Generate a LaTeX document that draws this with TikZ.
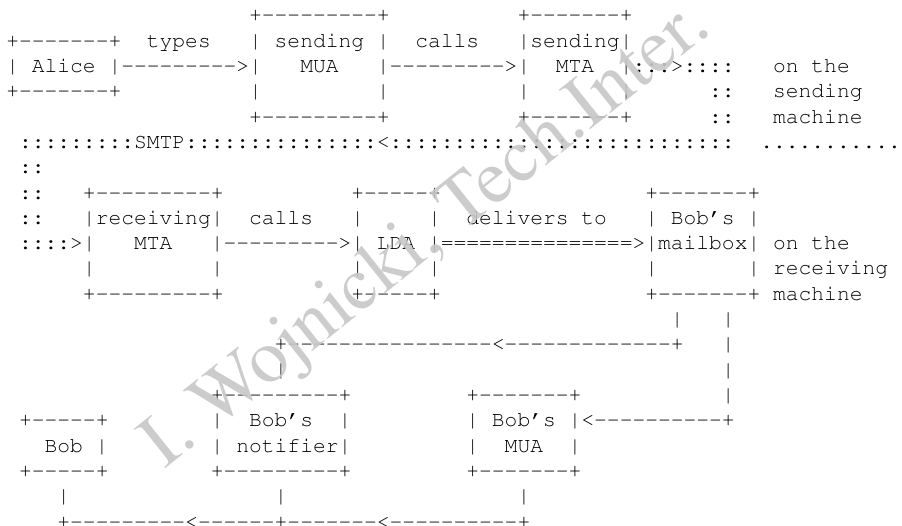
\documentclass[tikz,border=0pt]{standalone}
\usepackage[T1]{fontenc}
\usepackage{times}
\newcommand\cw{12.78}
\newcommand\rh{25.3}
\newcommand\rep[2]{\foreach \k in {1,...,#1}{#2}}
\newcommand\dd[1]{\rep{#1}{-}}
\tikzset{ascii/.style={anchor=base west, inner sep=0pt, outer sep=0pt,
  font=\fontsize{21.3}{25}\selectfont\ttfamily},
  wmark/.style={text=black!22, text opacity=0.9,
  font=\fontsize{76}{76}\selectfont\rmfamily}}
\newcommand\tx[3]{\node[ascii] at ({6.31+\cw*#2},{525-(22+\rh*(#1-1))}) {#3};}
\begin{document}
\begin{tikzpicture}[x=1pt,y=1pt]
\fill[white] (0,0) rectangle (902,525);
\useasboundingbox (0,0) rectangle (902,525);
% sending machine
\tx{1}{19}{+\dd9+} \tx{1}{40}{+\dd7+}
\tx{2}{0}{+\dd7+} \tx{2}{11}{types} \tx{2}{19}{| sending |} \tx{2}{32}{calls} \tx{2}{40}{|sending|}
\tx{3}{0}{| Alice |\dd9>|} \tx{3}{23}{MUA} \tx{3}{29}{|\dd9>|} \tx{3}{43}{MTA} \tx{3}{48}{|:::>::::} \tx{3}{60}{on the}
\tx{4}{0}{+\dd7+} \tx{4}{19}{|} \tx{4}{29}{|} \tx{4}{40}{|} \tx{4}{48}{|} \tx{4}{55}{::} \tx{4}{60}{sending}
\tx{5}{19}{+\dd9+} \tx{5}{40}{+\dd7+} \tx{5}{55}{::} \tx{5}{60}{machine}
\tx{6}{1}{\rep{9}{:}SMTP\rep{15}{:}<\rep{27}{:}} \tx{6}{59}{\rep{11}{.}}
% receiving machine
\tx{7}{1}{::}
\tx{8}{1}{::} \tx{8}{6}{+\dd9+} \tx{8}{27}{+\dd5+} \tx{8}{50}{+\dd7+}
\tx{9}{1}{::} \tx{9}{6}{|receiving|} \tx{9}{19}{calls} \tx{9}{27}{|} \tx{9}{33}{|} \tx{9}{36}{delivers to} \tx{9}{50}{| Bob's |}
\tx{10}{1}{::::>|} \tx{10}{10}{MTA} \tx{10}{16}{|\dd9>|} \tx{10}{29}{LDA} \tx{10}{33}{|\rep{15}{=}>|mailbox|} \tx{10}{60}{on the}
\tx{11}{6}{|} \tx{11}{16}{|} \tx{11}{27}{|} \tx{11}{33}{|} \tx{11}{50}{|} \tx{11}{58}{|} \tx{11}{60}{receiving}
\tx{12}{6}{+\dd9+} \tx{12}{27}{+\dd5+} \tx{12}{50}{+\dd7+} \tx{12}{60}{machine}
% delivery to Bob
\tx{13}{52}{|} \tx{13}{56}{|}
\tx{14}{21}{+\dd{16}<\dd{13}+} \tx{14}{56}{|}
\tx{15}{21}{|} \tx{15}{56}{|}
\tx{16}{16}{+\dd9+} \tx{16}{36}{+\dd7+} \tx{16}{56}{|}
\tx{17}{1}{+\dd5+} \tx{17}{16}{|} \tx{17}{19}{Bob's} \tx{17}{26}{|} \tx{17}{36}{| Bob's |<\dd{10}+}
\tx{18}{3}{Bob |} \tx{18}{16}{| notifier|} \tx{18}{36}{|} \tx{18}{39}{MUA} \tx{18}{44}{|}
\tx{19}{1}{+\dd5+} \tx{19}{16}{+\dd9+} \tx{19}{36}{+\dd7+}
\tx{20}{4}{|} \tx{20}{21}{|} \tx{20}{40}{|}
\tx{21}{4}{+\dd9<\dd6+\dd7<\dd{10}+}
% watermark
\node[wmark, rotate=38.6] (wm) at (428,288) {I. Wojnicki, Tech.Inter.};
\end{tikzpicture}
\end{document}
